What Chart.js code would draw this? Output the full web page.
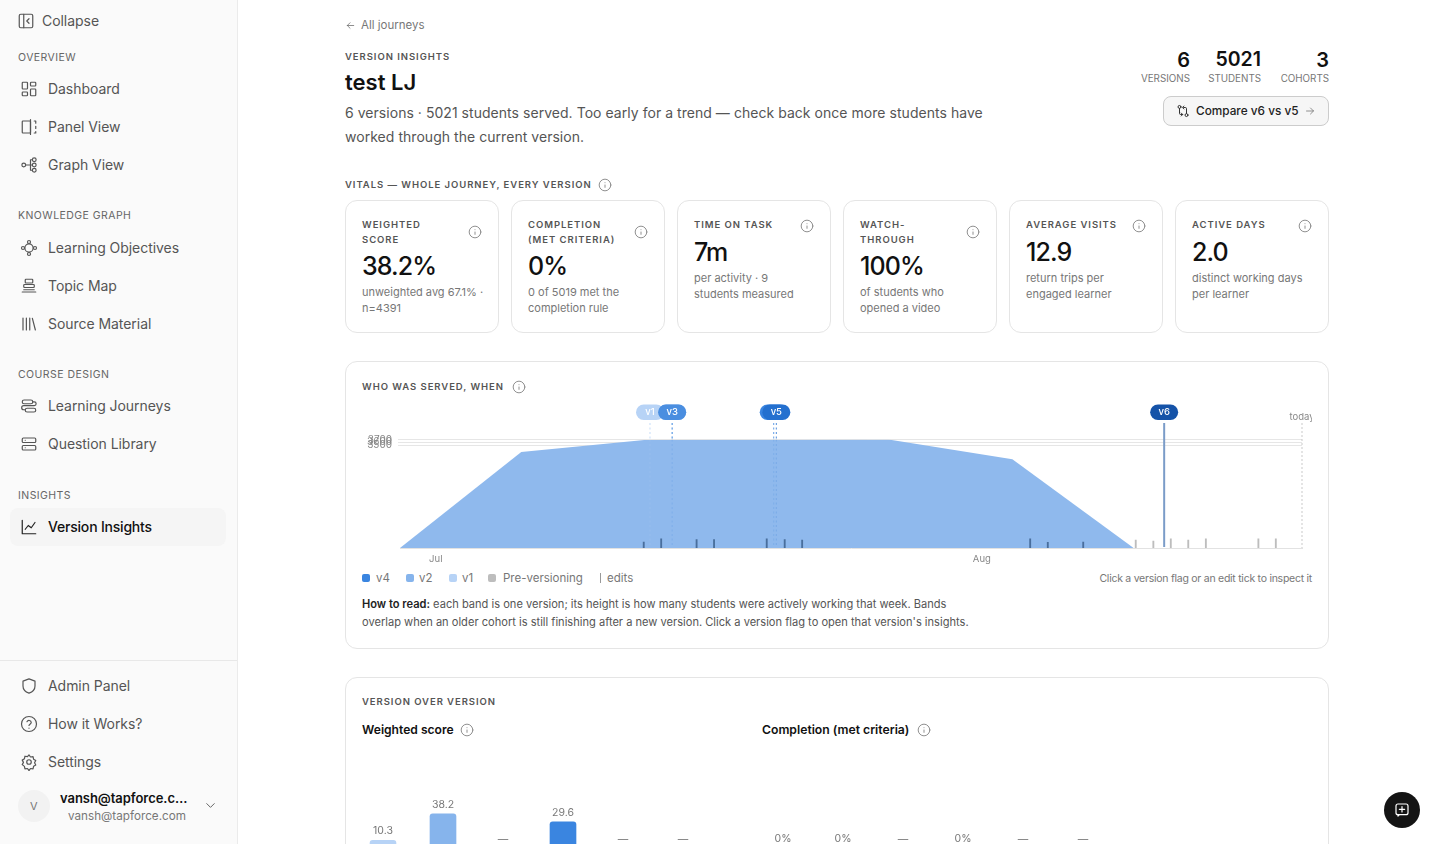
<!DOCTYPE html>
<html>
<head>
<meta charset="utf-8">
<title>Version Insights</title>
<script src="https://cdn.jsdelivr.net/npm/chart.js@4/dist/chart.umd.min.js"></script>
<style>
  html, body { margin: 0; height: 100%; overflow: hidden; background: #fff; }
  body { font-family: Inter, sans-serif; color: #111; position: relative; width: 1436px; height: 844px; }
  #side { position: absolute; left: 0; top: 0; width: 237px; height: 844px; background: #fafafa; border-right: 1px solid #ebebeb; }
  .box { position: absolute; box-sizing: border-box; }
  .card { border: 1px solid #e5e5e5; border-radius: 12px; background: #fff; }
  .t { position: absolute; white-space: nowrap; transform: translateY(-50%); line-height: 1; }
  .r { transform: translate(-100%, -50%); }
  .nav { font-size: 14px; color: #555; letter-spacing: -.05px; }
  .sec { font-size: 10.5px; color: #666; letter-spacing: .45px; margin-top: 1px; }
  .cap { font-size: 9.5px; color: #555; letter-spacing: .95px; font-weight: 600; }
  .sub { font-size: 11px; color: #777; }
  .val { font-size: 25px; font-weight: 500; color: #111; letter-spacing: -.9px; }
  .leg { font-size: 11.5px; color: #777; margin-top: 1px; }
  .how { font-size: 11.1px; color: #555; margin-top: 1px; }
  svg.i { position: absolute; fill: none; stroke-linecap: round; stroke-linejoin: round; }
  canvas { position: absolute; }
</style>
</head>
<body>
<div id="side"></div>
<div class="box" style="left:10px;top:508px;width:216px;height:38px;background:#f5f5f5;border-radius:8px"></div>
<div class="box" style="left:0;top:660px;width:237px;height:1px;background:#e8e8e8"></div>
<div class="box" style="left:18px;top:790px;width:32px;height:32px;border-radius:50%;background:#f2f2f2"></div>
<div class="box" style="left:1163px;top:96px;width:166px;height:30px;background:#f6f6f6;border:1px solid #ccc;border-radius:8px"></div>
<div class="box card" style="left:345px;top:361px;width:984px;height:288px"></div>
<div class="box card" style="left:345px;top:677px;width:984px;height:220px"></div>
<div class="box" style="left:1384px;top:792px;width:36px;height:36px;border-radius:50%;background:#141414"></div>

<canvas id="served" width="950" height="166" style="left:362px;top:400px"></canvas>
<canvas id="scoreBars" width="360" height="145" style="left:353px;top:745px"></canvas>
<canvas id="completionBars" width="360" height="145" style="left:753px;top:745px"></canvas>

<script>
// who was served, when (x = days since first week)
const weekDays = [0, 6.95, 14, 21, 28, 35.1, 42.05];
const activeStudents = [0, 3270, 3680, 3690, 3700, 3030, 0];
const yTicks = [3500, 3600, 3700];
const monthDays = [2.05, 33.35];
const monthLabels = ['Jul', 'Aug'];
const editDays = [13.97, 14.97, 17, 18, 21.02, 22.05, 23.05, 36.12, 37.13, 39.16, 42.17, 43.18, 44.18, 45.18, 46.19, 49.2, 50.2];
const editHeights = [200, 310, 290, 290, 310, 290, 270, 310, 190, 200, 270, 240, 310, 270, 310, 310, 310];
const versionNames = ['v1', 'v2', 'v3', 'v4', 'v5', 'v6'];
const versionDays = [14.33, 15.6, 15.6, 21.42, 21.57, 43.8];
const versionColors = ['#b7d3f6', '#86b4ec', '#4a8ee0', '#3a85e0', '#2470cf', '#1553a8'];
const todayDay = 51.7;

// version over version
const scoreValues = [10.3, 38.2, null, 29.6, null, null];
const completionValues = [0, 0, null, 0, null, null];

const TEXTS = [
  ['Collapse', 42, 21, 'nav'], ['OVERVIEW', 18, 57, 'sec'],
  ['Dashboard', 48, 89, 'nav'], ['Panel View', 48, 127, 'nav'], ['Graph View', 48, 165, 'nav'],
  ['KNOWLEDGE GRAPH', 18, 215, 'sec'],
  ['Learning Objectives', 48, 248, 'nav'], ['Topic Map', 48, 286, 'nav'], ['Source Material', 48, 324, 'nav'],
  ['COURSE DESIGN', 18, 374, 'sec'],
  ['Learning Journeys', 48, 406, 'nav'], ['Question Library', 48, 444, 'nav'],
  ['INSIGHTS', 18, 495, 'sec'],
  ['Admin Panel', 48, 686, 'nav'], ['How it Works?', 48, 724, 'nav'], ['Settings', 48, 762, 'nav'],
  ['V', 30, 806, 'sub'],
  ['VERSION INSIGHTS', 345, 57, 'cap'],
  ['VITALS — WHOLE JOURNEY, EVERY VERSION', 345, 185, 'cap'],
  ['WHO WAS SERVED, WHEN', 362, 387, 'cap'],
  ['VERSION OVER VERSION', 362, 702, 'cap'],
  ['v4', 376, 578, 'leg'], ['v2', 419, 578, 'leg'], ['v1', 462, 578, 'leg'], ['Pre-versioning', 503, 578, 'leg'],
  ['edits', 607, 578, 'leg'],
  ['overlap when an older cohort is still finishing after a new version. Click a version flag to open that version\'s insights.', 362, 622, 'how']
];

const CARDS = [
  [345, ['WEIGHTED', 'SCORE'], '38.2%', ['unweighted avg 67.1% ·', 'n=4391']],
  [511, ['COMPLETION', '(MET CRITERIA)'], '0%', ['0 of 5019 met the', 'completion rule']],
  [677, ['TIME ON TASK'], '7m', ['per activity · 9', 'students measured']],
  [843, ['WATCH-', 'THROUGH'], '100%', ['of students who', 'opened a video']],
  [1009, ['AVERAGE VISITS'], '12.9', ['return trips per', 'engaged learner']],
  [1175, ['ACTIVE DAYS'], '2.0', ['distinct working days', 'per learner']]
];

function put(text, x, y, cls, css) {
  const d = document.createElement('div');
  d.className = 't ' + (cls || '');
  d.textContent = text;
  d.style.left = x + 'px';
  d.style.top = y + 'px';
  if (css) d.style.cssText += css;
  document.body.appendChild(d);
  return d;
}

TEXTS.forEach(t => put(t[0], t[1], t[2], t[3]));
put('Version Insights', 48, 527, 'nav', 'color:#111;font-weight:500;letter-spacing:-.2px');
put('vansh@tapforce.c…', 60, 798, '', 'font-size:13px;font-weight:600;letter-spacing:-.05px');
put('vansh@tapforce.com', 68, 817, 'sub', 'font-size:11.7px');
put('All journeys', 361, 26, 'sub', 'font-size:11.5px');
put('test LJ', 345, 81.5, '', 'font-size:22px;font-weight:600');
put('6 versions · 5021 students served. Too early for a trend — check back once more students have', 345, 113, '', 'font-size:14px;color:#555;letter-spacing:.04px');
put('worked through the current version.', 345, 137, '', 'font-size:14px;color:#555;letter-spacing:.04px');
put('6', 1190, 60, 'r', 'font-size:20px;font-weight:600');
put('5021', 1261, 60, 'r', 'font-size:19.5px;font-weight:600');
put('3', 1329, 60, 'r', 'font-size:20px;font-weight:600');
put('VERSIONS', 1190, 79, 'r', 'font-size:9.8px;color:#777');
put('STUDENTS', 1261, 79, 'r', 'font-size:9.8px;color:#777');
put('COHORTS', 1329, 79, 'r', 'font-size:9.8px;color:#777');
put('Compare v6 vs v5', 1196, 112, '', 'font-size:11.8px;color:#222;font-weight:500');
put('Click a version flag or an edit tick to inspect it', 1312, 579, 'r', 'font-size:10.5px;color:#777;letter-spacing:-.26px');
put('Weighted score', 362, 730, '', 'font-size:12.1px;font-weight:600');
put('Completion (met criteria)', 762, 730, '', 'font-size:12.2px;font-weight:600');
const how = put('', 362, 604, 'how');
how.innerHTML = '<b style="color:#222;font-weight:600">How to read:</b> each band is one version; its height is how many students were actively working that week. Bands';

CARDS.forEach(c => {
  const x = c[0], two = c[1].length > 1;
  const card = document.createElement('div');
  card.className = 'box card';
  card.style.cssText = `left:${x}px;top:200px;width:154px;height:133px`;
  document.body.insertBefore(card, document.getElementById('served'));
  c[1].forEach((l, i) => put(l, x + 17, 225 + i * 15, 'cap'));
  put(c[2], x + 17, two ? 266 : 252, 'val');
  c[3].forEach((l, i) => put(l, x + 17, (two ? 292 : 278) + i * 16, 'sub'));
  icon('info', x + 122.5, two ? 225 : 218.5, 14, '#888');
});

function icon(name, x, y, size, color, sw) {
  const paths = {
    info: '<circle cx="12" cy="12" r="10"/><path d="M12 16v-4M12 8h.01"/>',
    collapse: '<rect x="3" y="3" width="18" height="18" rx="2"/><path d="M9 3v18M16 9l-3 3 3 3"/>',
    dash: '<rect x="3" y="3" width="7" height="9" rx="1"/><rect x="14" y="3" width="7" height="5" rx="1"/><rect x="14" y="12" width="7" height="9" rx="1"/><rect x="3" y="16" width="7" height="5" rx="1"/>',
    panel: '<rect x="3" y="4" width="11" height="16" rx="1"/><path d="M14 2v20M19 4h2v3M21 11v3M21 18v2h-2"/>',
    graph: '<circle cx="5" cy="12" r="2.5"/><circle cx="19" cy="5" r="2.5"/><circle cx="19" cy="12" r="2.5"/><circle cx="19" cy="19" r="2.5"/><path d="M7.5 12h9M14 5v14M14 5h2.5M14 19h2.5"/>',
    obj: '<circle cx="12" cy="12" r="5.5"/><circle cx="12" cy="4" r="2"/><circle cx="12" cy="20" r="2"/><circle cx="4" cy="12" r="2"/><circle cx="20" cy="12" r="2"/>',
    map: '<rect x="7" y="3" width="10" height="5" rx="1"/><rect x="5" y="10" width="14" height="4" rx="1"/><path d="M3 20h18M5 17h14"/>',
    books: '<path d="M4 4v16M8.5 4v16M13 4v16M16.5 4.5l4 15.5"/>',
    journey: '<rect x="3" y="4" width="14" height="5" rx="2.5"/><rect x="7" y="15" width="14" height="5" rx="2.5"/><path d="M17 6.5h2a2.5 2.5 0 0 1 0 5H5a2 2 0 0 0 0 5.5h2"/>',
    qlib: '<rect x="3" y="4" width="18" height="6" rx="1.5"/><rect x="3" y="14" width="18" height="6" rx="1.5"/><path d="M7 7h.01M7 17h.01"/>',
    line: '<path d="M3 3v18h18"/><path d="M7 15l4-5 4 3 5-7"/>',
    shield: '<path d="M12 2.500l8 3v6.500c0 5-3.500 8-8 9.500-4.500-1.500-8-4.500-8-9.500V5.500z"/>',
    help: '<circle cx="12" cy="12" r="10"/><path d="M9.300 9a3 3 0 0 1 5.700 1c0 2-3 2.500-3 4M12 17.500h.01"/>',
    gear: '<circle cx="12" cy="12" r="3"/><path d="M12 2.500l2 2.800 3.400-.5.700 3.400 2.900 1.800-1.600 3 1.600 3-2.900 1.800-.7 3.400-3.400-.5-2 2.800-2-2.800-3.400.5-.7-3.400L3 15.500l1.600-3L3 9.500l2.900-1.800.7-3.400 3.400.5z"/>',
    chev: '<path d="M6 9l6 6 6-6"/>',
    back: '<path d="M19 12H5M11 6l-6 6 6 6"/>',
    next: '<path d="M5 12h14M13 6l6 6-6 6"/>',
    compare: '<circle cx="6" cy="5" r="2.500"/><circle cx="18" cy="19" r="2.500"/><path d="M6 8v8a2 2 0 0 0 2 2h3M18 16V8a2 2 0 0 0-2-2h-3M13.500 3.500L11 6l2.500 2.500M9 15.500l2.500 2.500L9 20.500"/>',
    chat: '<rect x="3" y="3" width="18" height="16" rx="3"/><path d="M8 11h8M12 7v8M8 19l-2 2v-2"/>'
  };
  const s = document.createElementNS('http://www.w3.org/2000/svg', 'svg');
  s.setAttribute('class', 'i');
  s.setAttribute('viewBox', '0 0 24 24');
  s.setAttribute('width', size);
  s.setAttribute('height', size);
  s.setAttribute('stroke', color);
  s.setAttribute('stroke-width', sw || 1.6);
  s.style.left = x + 'px';
  s.style.top = y + 'px';
  s.innerHTML = paths[name];
  document.body.appendChild(s);
}

icon('collapse', 17, 12, 18, '#555');
[['dash', 20, 80], ['panel', 20, 118], ['graph', 20, 156], ['obj', 20, 239], ['map', 20, 277],
 ['books', 20, 315], ['journey', 20, 397], ['qlib', 20, 435], ['shield', 20, 677], ['help', 20, 715], ['gear', 20, 753]]
  .forEach(a => icon(a[0], a[1], a[2], 18, '#555'));
icon('line', 20, 518, 18, '#222');
icon('chev', 203, 798, 15, '#666');
icon('back', 345, 20, 11, '#666');
icon('next', 1304, 105, 12, '#777');
icon('compare', 1176, 104, 14, '#222');
icon('info', 598, 177.5, 14, '#888');
icon('info', 512, 379.5, 14, '#888');
icon('info', 460, 722.5, 14, '#888');
icon('info', 917, 722.5, 14, '#888');
icon('chat', 1394, 802, 16, '#fff', 1.8);

// legend swatches
[[362, '#3a85e0'], [406, '#86b4ec'], [449, '#b7d3f6'], [488, '#bdbdbd']].forEach(s => {
  const d = document.createElement('div');
  d.className = 'box';
  d.style.cssText = `left:${s[0]}px;top:574px;width:8px;height:8px;border-radius:2px;background:${s[1]}`;
  document.body.appendChild(d);
});
const editMark = document.createElement('div');
editMark.className = 'box';
editMark.style.cssText = 'left:600px;top:573px;width:1px;height:10px;background:#999';
document.body.appendChild(editMark);

const versionFlags = {
  id: 'versionFlags',
  afterDatasetsDraw(chart) {
    const { ctx, chartArea, scales: { x, y } } = chart;
    const bottom = y.getPixelForValue(0);
    ctx.save();
    // today marker
    const tx = x.getPixelForValue(todayDay);
    ctx.strokeStyle = '#c9c9c9';
    ctx.lineWidth = 1;
    ctx.setLineDash([2, 2]);
    ctx.beginPath(); ctx.moveTo(tx, 23); ctx.lineTo(tx, bottom); ctx.stroke();
    ctx.fillStyle = '#888';
    ctx.font = '9.5px Inter';
    ctx.textAlign = 'center';
    ctx.textBaseline = 'middle';
    ctx.fillText('today', tx, 17);

    versionNames.forEach((name, i) => {
      const px = x.getPixelForValue(versionDays[i]);
      if (name === 'v6') {
        ctx.strokeStyle = '#7b9cc8';
        ctx.lineWidth = 2;
        ctx.setLineDash([]);
        ctx.beginPath(); ctx.moveTo(px, 23); ctx.lineTo(px, bottom - 1); ctx.stroke();
        return;
      }
      ctx.strokeStyle = versionColors[i];
      ctx.lineWidth = 1;
      ctx.setLineDash([2, 2.5]);
      ctx.globalAlpha = 0.8;
      ctx.beginPath(); ctx.moveTo(px, 23); ctx.lineTo(px, chartArea.top - 1); ctx.stroke();
      ctx.globalAlpha = 0.2;
      ctx.beginPath(); ctx.moveTo(px, chartArea.top); ctx.lineTo(px, bottom - 3); ctx.stroke();
      ctx.globalAlpha = 1;
    });
    ctx.setLineDash([]);
    versionNames.forEach((name, i) => {
      const px = x.getPixelForValue(versionDays[i]);
      ctx.fillStyle = versionColors[i];
      ctx.beginPath(); ctx.roundRect(px - 14, 4.5, 28, 15.5, 8); ctx.fill();
      ctx.fillStyle = '#fff';
      ctx.font = '500 9.5px Inter';
      ctx.fillText(name, px, 12.5);
    });
    ctx.restore();
  }
};

new Chart(document.getElementById('served'), {
  data: {
    datasets: [
      {
        type: 'bar', label: 'edits', order: 1,
        data: editDays.map((d, i) => ({ x: d, y: editHeights[i] })),
        backgroundColor: editDays.map(d => d < 42 ? 'rgba(50,85,130,.75)' : '#bdbdbd'),
        barThickness: 1.2, grouped: false
      },
      {
        type: 'line', label: 'v2', order: 2,
        data: weekDays.map((d, i) => ({ x: d, y: activeStudents[i] })),
        backgroundColor: '#8fb9ed', borderWidth: 0, pointRadius: 0, tension: 0, fill: 'origin'
      }
    ]
  },
  options: {
    responsive: false,
    animation: false,
    layout: { padding: { top: 39.5, right: 10 } },
    plugins: { legend: { display: false }, tooltip: { enabled: false } },
    scales: {
      x: {
        type: 'linear', min: 0, max: todayDay, offset: false,
        afterBuildTicks: s => { s.ticks = monthDays.map(v => ({ value: v })); },
        afterFit: s => { s.height = 18; },
        grid: { display: false, drawTicks: false },
        border: { color: '#e2e2e2' },
        ticks: {
          autoSkip: false, maxRotation: 0, padding: 5, color: '#888', font: { family: 'Inter', size: 9.5 },
          callback: v => monthLabels[monthDays.indexOf(v)]
        }
      },
      y: {
        min: 0, max: 3700,
        afterBuildTicks: s => { s.ticks = yTicks.map(v => ({ value: v })); },
        afterFit: s => { s.width = 38; },
        grid: { color: '#e6e6e6', tickLength: 2 },
        border: { display: false },
        ticks: { autoSkip: false, padding: 6, color: '#888', font: { family: 'Inter', size: 10 }, callback: v => String(v) }
      }
    }
  },
  plugins: [versionFlags]
});

const valueLabels = {
  id: 'valueLabels',
  afterDatasetsDraw(chart) {
    const { ctx, scales: { x, y } } = chart;
    const unit = chart.options.plugins.valueLabels.unit;
    ctx.save();
    ctx.fillStyle = '#777';
    ctx.font = '10.5px Inter';
    ctx.textAlign = 'center';
    ctx.textBaseline = 'middle';
    chart.data.datasets[0].data.forEach((v, i) => {
      const text = v === null ? '—' : v + unit;
      const gap = v === null ? 10 : v > 0 ? 9 : 11.5;
      ctx.fillText(text, x.getPixelForValue(i), y.getPixelForValue(v || 0) - gap);
    });
    ctx.restore();
  }
};

function barChart(id, values, unit) {
  new Chart(document.getElementById(id), {
    type: 'bar',
    data: {
      labels: versionNames,
      datasets: [{ data: values, backgroundColor: versionColors, barThickness: 26, borderRadius: { topLeft: 3, topRight: 3 }, borderSkipped: 'bottom' }]
    },
    options: {
      responsive: false,
      animation: false,
      layout: { padding: { top: 10 } },
      plugins: { legend: { display: false }, tooltip: { enabled: false }, valueLabels: { unit } },
      scales: {
        x: {
          afterFit: s => { s.height = 40; },
          grid: { display: false, drawTicks: false },
          border: { color: '#eeeeee' },
          ticks: { color: '#888', padding: 8, font: { family: 'Inter', size: 10.5 } }
        },
        y: { display: false, min: 0, max: 100 }
      }
    },
    plugins: [valueLabels]
  });
}

barChart('scoreBars', scoreValues, '');
barChart('completionBars', completionValues, '%');
</script>
</body>
</html>
